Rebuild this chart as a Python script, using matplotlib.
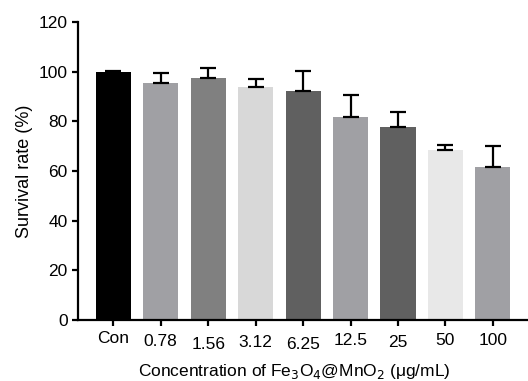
import matplotlib
matplotlib.use("Agg")
import matplotlib.pyplot as plt
import matplotlib.transforms as mtransforms
import numpy as np

plt.rcParams['font.family'] = ['Liberation Sans', 'DejaVu Sans']

labels = ['Con', '0.78', '1.56', '3.12', '6.25', '12.5', '25', '50', '100']
survival = [100.0, 95.6, 97.3, 93.7, 92.2, 81.9, 77.9, 68.5, 61.7]
errors = [0.5, 3.7, 4.4, 3.5, 8.3, 8.6, 6.0, 1.8, 8.4]
colors = ['#000000', '#a0a0a4', '#808080', '#d8d8d8', '#606060',
          '#a0a0a4', '#606060', '#e8e8e8', '#a0a0a4']
# small vertical shifts of the tick labels, as in the original figure
label_shift = [0, -2, -4, -3, -4, -1, -3, -1, -1]

fig = plt.figure(figsize=(5.28, 3.81), dpi=100)
ax = fig.add_axes([0.148, 0.16, 0.852, 0.782])

x = np.arange(len(labels))
ax.bar(x, survival, width=0.74, color=colors, zorder=2)
ax.errorbar(x, survival, yerr=[np.zeros(len(errors)), errors], fmt='none',
            ecolor='black', elinewidth=1.6, capsize=6, capthick=1.6, zorder=3)

ax.set_xlim(-0.74, len(labels) - 0.26)
ax.set_ylim(0, 120)
ax.set_yticks(np.arange(0, 121, 20))
ax.set_xticks(x)
ax.set_xticklabels(labels)

for s in ['top', 'right']:
    ax.spines[s].set_visible(False)
for s in ['left', 'bottom']:
    ax.spines[s].set_linewidth(1.6)

ax.tick_params(axis='both', direction='out', length=4, width=1.6,
               labelsize=12.5, colors='black')
ax.tick_params(axis='x', pad=4)

for lab, dy in zip(ax.get_xticklabels(), label_shift):
    lab.set_transform(lab.get_transform() +
                      mtransforms.ScaledTranslation(0, dy / 72, fig.dpi_scale_trans))

ax.set_ylabel('Survival rate (%)', fontsize=13)
ax.yaxis.set_label_coords(-0.10, 0.5)
ax.set_xlabel('Concentration of Fe$_3$O$_4$@MnO$_2$ (\u03bcg/mL)', fontsize=12.5)
ax.xaxis.set_label_coords(0.48, -0.14)

fig.savefig('out.png', dpi=100)
